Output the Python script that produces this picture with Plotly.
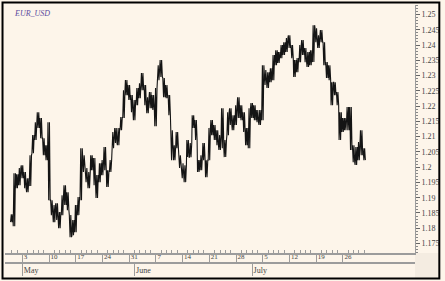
import numpy as np
import pandas as pd
import plotly.graph_objects as go

# ---------------- data ----------------
title = "EUR_USD"
first_day = "2004-04-29"
last_day = "2004-07-30"
ref_monday = "2004-05-03"

# half-day high / low of the EUR/USD trace, two samples per trading day
hi = [1.1846, 1.1980, 1.1977, 1.1997, 1.2006, 1.1984, 1.1964, 1.2039, 1.2105, 1.2147,
      1.2180, 1.2161, 1.2095, 1.2072, 1.2147, 1.1892, 1.1876, 1.1882, 1.1853, 1.1908,
      1.1941, 1.1918, 1.1843, 1.1827, 1.1876, 1.1902, 1.2062, 1.2039, 1.1997, 1.1984,
      1.2039, 1.2030, 1.1974, 1.2013, 1.2023, 1.2066, 1.1990, 1.2023, 1.2115, 1.2128,
      1.2128, 1.2164, 1.2252, 1.2285, 1.2269, 1.2236, 1.2220, 1.2259, 1.2275, 1.2308,
      1.2269, 1.2229, 1.2246, 1.2236, 1.2259, 1.2334, 1.2351, 1.2292, 1.2269, 1.2236,
      1.2121, 1.2072, 1.2115, 1.2039, 1.2013, 1.2006, 1.2089, 1.2079, 1.2170, 1.2154,
      1.2023, 1.2039, 1.2079, 1.2023, 1.2128, 1.2154, 1.2138, 1.2121, 1.2105, 1.2193,
      1.2089, 1.2180, 1.2193, 1.2170, 1.2203, 1.2229, 1.2203, 1.2180, 1.2128, 1.2193,
      1.2210, 1.2203, 1.2187, 1.2187, 1.2334, 1.2318, 1.2311, 1.2324, 1.2367, 1.2383,
      1.2377, 1.2400, 1.2409, 1.2423, 1.2432, 1.2400, 1.2351, 1.2357, 1.2400, 1.2416,
      1.2390, 1.2377, 1.2383, 1.2465, 1.2455, 1.2432, 1.2449, 1.2409, 1.2344, 1.2334,
      1.2278, 1.2278, 1.2246, 1.2180, 1.2161, 1.2161, 1.2197, 1.2197, 1.2072, 1.2066,
      1.2082, 1.2121, 1.2062]
lo = [1.1820, 1.1807, 1.1931, 1.1941, 1.1964, 1.1931, 1.1918, 1.1938, 1.2046, 1.2089,
      1.2128, 1.2095, 1.2039, 1.2023, 1.1892, 1.1843, 1.1820, 1.1827, 1.1800, 1.1843,
      1.1876, 1.1859, 1.1771, 1.1777, 1.1787, 1.1843, 1.1892, 1.1984, 1.1951, 1.1931,
      1.1990, 1.1941, 1.1899, 1.1951, 1.1974, 1.1990, 1.1935, 1.1984, 1.2062, 1.2079,
      1.2072, 1.2121, 1.2161, 1.2236, 1.2220, 1.2180, 1.2154, 1.2203, 1.2226, 1.2252,
      1.2203, 1.2177, 1.2193, 1.2187, 1.2134, 1.2285, 1.2295, 1.2229, 1.2226, 1.2170,
      1.2023, 1.2023, 1.2062, 1.1997, 1.1964, 1.1951, 1.2033, 1.2033, 1.2128, 1.2089,
      1.1984, 1.1990, 1.2023, 1.1967, 1.2023, 1.2105, 1.2089, 1.2072, 1.2056, 1.2062,
      1.2033, 1.2105, 1.2138, 1.2121, 1.2138, 1.2161, 1.2154, 1.2115, 1.2072, 1.2062,
      1.2161, 1.2154, 1.2147, 1.2138, 1.2154, 1.2269, 1.2259, 1.2278, 1.2285, 1.2334,
      1.2341, 1.2357, 1.2367, 1.2377, 1.2390, 1.2357, 1.2295, 1.2311, 1.2344, 1.2367,
      1.2344, 1.2328, 1.2334, 1.2344, 1.2409, 1.2390, 1.2409, 1.2334, 1.2292, 1.2285,
      1.2203, 1.2236, 1.2203, 1.2089, 1.2115, 1.2121, 1.2121, 1.2056, 1.2016, 1.2007,
      1.2023, 1.2039, 1.2023]

y_tick_vals = [1.175, 1.18, 1.185, 1.19, 1.195, 1.2, 1.205, 1.21, 1.215,
               1.22, 1.225, 1.23, 1.235, 1.24, 1.245, 1.25]
y_tick_text = ["1.175", "1.18", "1.185", "1.19", "1.195", "1.2", "1.205", "1.21",
               "1.215", "1.22", "1.225", "1.23", "1.235", "1.24", "1.245", "1.25"]
month_names = {5: "May", 6: "June", 7: "July"}

# ---------------- build trading-day axis ----------------
days = pd.bdate_range(first_day, last_day)
origin = list(days).index(pd.Timestamp(ref_monday))
day_pos = np.arange(len(days)) - origin

xs, ys = [], []
n = len(hi)
mid = [(a + b) / 2 for a, b in zip(hi, lo)]
for k in range(n):
    base = day_pos[k // 2] + 0.5 * (k % 2)
    up = k < n - 1 and mid[k + 1] > mid[k]
    seq = (lo[k], hi[k], lo[k], hi[k]) if up else (hi[k], lo[k], hi[k], lo[k])
    for j, v in enumerate(seq):
        xs.append(base - 0.21 + 0.14 * j)
        ys.append(v)

mon_vals = [p for p, d in zip(day_pos, days) if d.weekday() == 0]
mon_text = [str(d.day) for d in days if d.weekday() == 0]
minor_vals = [p for p, d in zip(day_pos, days) if d.weekday() != 0]
month_vals, month_text = [], []
seen = set()
for p, d in zip(day_pos, days):
    if d.month in month_names and d.month not in seen:
        seen.add(d.month)
        month_vals.append(p)
        month_text.append(month_names[d.month])

bg = "#fdf5ea"
axis_col = "#9c9c9c"
font_fam = "Liberation Serif"
xr = [-3.25, 73.5]

fig = go.Figure()
fig.add_trace(go.Scatter(x=xs, y=ys, mode="lines",
                         line=dict(color="#141414", width=1.1),
                         hoverinfo="skip", showlegend=False))
fig.add_trace(go.Scatter(x=[None], y=[None], xaxis="x2", yaxis="y",
                         showlegend=False, hoverinfo="skip"))

ydom0 = 10 / 258
fig.update_layout(
    width=445, height=281,
    margin=dict(l=5, r=27, t=5, b=18),
    paper_bgcolor=bg, plot_bgcolor=bg,
    showlegend=False,
    xaxis=dict(range=xr, anchor="y", showgrid=False, zeroline=False,
               showline=True, linecolor=axis_col, linewidth=2,
               tickmode="array", tickvals=mon_vals, ticktext=mon_text,
               ticks="outside", ticklen=9, tickwidth=1, tickcolor=axis_col,
               ticklabelposition="outside right", ticklabelstandoff=-4,
               tickfont=dict(family=font_fam, size=7, color="#444"),
               minor=dict(tickmode="array", tickvals=minor_vals, ticks="inside",
                          ticklen=3, tickwidth=1, tickcolor=axis_col)),
    xaxis2=dict(range=xr, overlaying="x", anchor="free", position=0, side="bottom",
                showgrid=False, zeroline=False, showline=True,
                linecolor=axis_col, linewidth=2,
                tickmode="array", tickvals=month_vals, ticktext=month_text,
                ticks="outside", ticklen=12, tickwidth=1, tickcolor=axis_col,
                ticklabelposition="outside right", ticklabelstandoff=-1,
                tickfont=dict(family=font_fam, size=8, color="#444")),
    yaxis=dict(domain=[ydom0, 1], range=[1.1719, 1.2531], side="right",
               anchor="x", showgrid=False, zeroline=False,
               showline=True, linecolor=axis_col, linewidth=1,
               tickmode="array", tickvals=y_tick_vals, ticktext=y_tick_text,
               ticks="outside", ticklen=4, tickwidth=1, tickcolor="#666",
               tickfont=dict(family=font_fam, size=8, color="#444"),
               minor=dict(dtick=0.001, tick0=1.175, ticks="outside",
                          ticklen=2, tickwidth=1, tickcolor="#888")),
)

# bottom-right tinted corner and outer frame
fig.add_shape(type="rect", xref="paper", yref="paper",
              x0=1.0, x1=(442 - 5) / 413, y0=(263 - 278) / 258, y1=ydom0,
              fillcolor="#f4ece1", line=dict(width=0), layer="below")
fig.add_shape(type="rect", xref="paper", yref="paper",
              x0=(2.5 - 5) / 413, x1=(442.5 - 5) / 413,
              y0=(263 - 278.5) / 258, y1=(263 - 2.5) / 258,
              line=dict(color="black", width=2), fillcolor="rgba(0,0,0,0)")

fig.add_annotation(text="<i>" + title + "</i>", xref="paper", yref="paper",
                   x=(12 - 5) / 413, y=(263 - 13) / 258, xanchor="left",
                   yanchor="middle", showarrow=False,
                   font=dict(family=font_fam, size=8, color="#5b4b9e"))

fig.write_html("out.html")
